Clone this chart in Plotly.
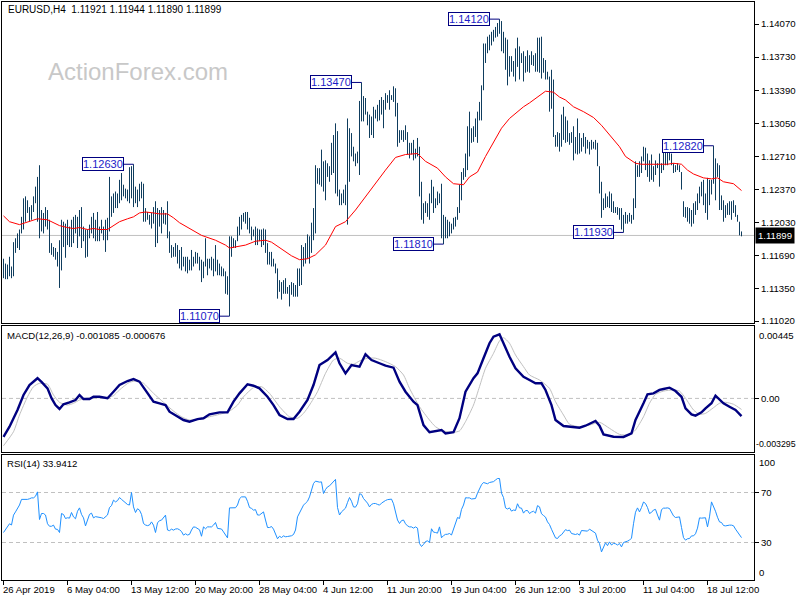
import plotly.graph_objects as go

# ---------------- data ----------------
header_text = "EURUSD,H4  1.11921 1.11944 1.11890 1.11899"
macd_text = "MACD(12,26,9) -0.001085 -0.000676"
rsi_text = "RSI(14) 33.9412"
watermark = "ActionForex.com"
bid_price = 1.11899

bar_high = [
    1.1166, 1.1161, 1.1160, 1.1168, 1.1158, 1.1183, 1.1187, 1.1192, 1.1196, 1.1209,
    1.1228, 1.1230, 1.1226, 1.1219, 1.1221, 1.1230, 1.1240, 1.1250, 1.1262, 1.1216,
    1.1213, 1.1219, 1.1216, 1.1206, 1.1182, 1.1178, 1.1177, 1.1173, 1.1185, 1.1206,
    1.1204, 1.1202, 1.1206, 1.1199, 1.1206, 1.1209, 1.1211, 1.1209, 1.1216, 1.1219,
    1.1199, 1.1196, 1.1196, 1.1201, 1.1209, 1.1213, 1.1206, 1.1214, 1.1199, 1.1206,
    1.1199, 1.1206, 1.1208, 1.1250, 1.1230, 1.1233, 1.1235, 1.1233, 1.1247, 1.1254,
    1.1242, 1.1238, 1.1237, 1.1260, 1.1261, 1.1263, 1.1240, 1.1237, 1.1243, 1.1245,
    1.1243, 1.1218, 1.1214, 1.1211, 1.1213, 1.1219, 1.1225, 1.1218, 1.1216, 1.1219,
    1.1216, 1.1213, 1.1225, 1.1194, 1.1180, 1.1178, 1.1182, 1.1180, 1.1175, 1.1178,
    1.1168, 1.1168, 1.1168, 1.1165, 1.1175, 1.1168, 1.1173, 1.1172, 1.1168, 1.1165,
    1.1163, 1.1187, 1.1166, 1.1166, 1.1168, 1.1166, 1.1180, 1.1165, 1.1161, 1.1158,
    1.1156, 1.1153, 1.1148, 1.1189, 1.1189, 1.1187, 1.1185, 1.1199, 1.1209, 1.1211,
    1.1213, 1.1214, 1.1214, 1.1208, 1.1199, 1.1196, 1.1199, 1.1197, 1.1196, 1.1196,
    1.1197, 1.1196, 1.1182, 1.1173, 1.1173, 1.1166, 1.1161, 1.1156, 1.1144, 1.1142,
    1.1144, 1.1146, 1.1137, 1.1139, 1.1142, 1.1141, 1.1139, 1.1156, 1.1156, 1.1180,
    1.1178, 1.1182, 1.1191, 1.1189, 1.1203, 1.1218, 1.1262, 1.1259, 1.1259, 1.1278,
    1.1266, 1.1267, 1.1264, 1.1261, 1.1285, 1.1293, 1.1305, 1.1297, 1.1237, 1.1233,
    1.1237, 1.1242, 1.1310, 1.1300, 1.1295, 1.1281, 1.1274, 1.1276, 1.1328, 1.1347,
    1.1333, 1.1331, 1.1317, 1.1314, 1.1312, 1.1322, 1.1319, 1.1324, 1.1329, 1.1332,
    1.1329, 1.1336, 1.1334, 1.1339, 1.1334, 1.1343, 1.1341, 1.1326, 1.1298, 1.1298,
    1.1298, 1.1303, 1.1296, 1.1285, 1.1285, 1.1288, 1.1279, 1.1290, 1.1281, 1.1245,
    1.1223, 1.1225, 1.1223, 1.1233, 1.1247, 1.1240, 1.1228, 1.1235, 1.1233, 1.1243,
    1.1211, 1.1209, 1.1206, 1.1204, 1.1202, 1.1208, 1.1209, 1.1219, 1.1242, 1.1255,
    1.1259, 1.1274, 1.1302, 1.1317, 1.1300, 1.1302, 1.1310, 1.1317, 1.1327, 1.1344,
    1.1387, 1.1387, 1.1394, 1.1396, 1.1399, 1.1401, 1.1404, 1.1408, 1.1412, 1.1410,
    1.1399, 1.1393, 1.1391, 1.1374, 1.1374, 1.1369, 1.1382, 1.1393, 1.1384, 1.1377,
    1.1379, 1.1374, 1.1380, 1.1375, 1.1379, 1.1375, 1.1377, 1.1393, 1.1393, 1.1394,
    1.1372, 1.1370, 1.1358, 1.1353, 1.1360, 1.1350, 1.1293, 1.1296, 1.1295, 1.1314,
    1.1322, 1.1312, 1.1308, 1.1295, 1.1296, 1.1302, 1.1291, 1.1310, 1.1295, 1.1290,
    1.1295, 1.1291, 1.1288, 1.1286, 1.1288, 1.1286, 1.1288, 1.1285, 1.1261, 1.1245,
    1.1228, 1.1233, 1.1230, 1.1235, 1.1233, 1.1225, 1.1219, 1.1219, 1.1218, 1.1218,
    1.1211, 1.1214, 1.1211, 1.1213, 1.1211, 1.1228, 1.1266, 1.1262, 1.1266, 1.1271,
    1.1281, 1.1280, 1.1274, 1.1267, 1.1273, 1.1261, 1.1267, 1.1264, 1.1274, 1.1264,
    1.1276, 1.1279, 1.1278, 1.1281, 1.1274, 1.1264, 1.1262, 1.1264, 1.1262, 1.1255,
    1.1225, 1.1219, 1.1219, 1.1218, 1.1216, 1.1223, 1.1225, 1.1233, 1.1240, 1.1245,
    1.1247, 1.1233, 1.1249, 1.1247, 1.1247, 1.1282, 1.1269, 1.1264, 1.1262, 1.1231,
    1.1226, 1.1221, 1.1223, 1.1225, 1.1225, 1.1226, 1.1221, 1.1211, 1.1204, 1.1194,
]

bar_low = [
    1.1146, 1.1145, 1.1145, 1.1148, 1.1146, 1.1148, 1.1172, 1.1177, 1.1175, 1.1192,
    1.1196, 1.1204, 1.1213, 1.1204, 1.1206, 1.1214, 1.1223, 1.1204, 1.1187, 1.1194,
    1.1192, 1.1199, 1.1196, 1.1172, 1.1170, 1.1168, 1.1165, 1.1158, 1.1136, 1.1154,
    1.1178, 1.1167, 1.1180, 1.1178, 1.1178, 1.1182, 1.1192, 1.1177, 1.1189, 1.1177,
    1.1184, 1.1167, 1.1168, 1.1187, 1.1192, 1.1187, 1.1184, 1.1184, 1.1184, 1.1192,
    1.1185, 1.1173, 1.1185, 1.1194, 1.1209, 1.1213, 1.1218, 1.1218, 1.1223, 1.1226,
    1.1230, 1.1228, 1.1225, 1.1223, 1.1228, 1.1219, 1.1223, 1.1219, 1.1225, 1.1228,
    1.1204, 1.1204, 1.1206, 1.1201, 1.1197, 1.1202, 1.1178, 1.1182, 1.1199, 1.1192,
    1.1202, 1.1201, 1.1187, 1.1172, 1.1167, 1.1168, 1.1168, 1.1161, 1.1156, 1.1154,
    1.1158, 1.1153, 1.1151, 1.1154, 1.1154, 1.1158, 1.1161, 1.1161, 1.1154, 1.1142,
    1.1146, 1.1158, 1.1149, 1.1156, 1.1154, 1.1148, 1.1153, 1.1149, 1.1149, 1.1148,
    1.1148, 1.1130, 1.1129, 1.1107, 1.1168, 1.1177, 1.1177, 1.1184, 1.1190, 1.1196,
    1.1204, 1.1202, 1.1196, 1.1192, 1.1185, 1.1189, 1.1180, 1.1180, 1.1184, 1.1178,
    1.1180, 1.1172, 1.1160, 1.1160, 1.1158, 1.1158, 1.1151, 1.1125, 1.1132, 1.1124,
    1.1130, 1.1130, 1.1130, 1.1117, 1.1129, 1.1127, 1.1127, 1.1127, 1.1138, 1.1139,
    1.1158, 1.1161, 1.1166, 1.1161, 1.1172, 1.1185, 1.1192, 1.1243, 1.1242, 1.1240,
    1.1235, 1.1226, 1.1250, 1.1245, 1.1252, 1.1254, 1.1233, 1.1230, 1.1221, 1.1221,
    1.1223, 1.1221, 1.1201, 1.1245, 1.1271, 1.1266, 1.1261, 1.1264, 1.1252, 1.1307,
    1.1307, 1.1314, 1.1303, 1.1290, 1.1293, 1.1290, 1.1310, 1.1307, 1.1308, 1.1314,
    1.1300, 1.1319, 1.1326, 1.1319, 1.1329, 1.1327, 1.1312, 1.1281, 1.1285, 1.1288,
    1.1286, 1.1288, 1.1273, 1.1269, 1.1273, 1.1267, 1.1269, 1.1271, 1.1230, 1.1206,
    1.1202, 1.1213, 1.1209, 1.1206, 1.1223, 1.1213, 1.1218, 1.1221, 1.1223, 1.1187,
    1.1181, 1.1187, 1.1187, 1.1189, 1.1192, 1.1196, 1.1199, 1.1206, 1.1213, 1.1226,
    1.1247, 1.1250, 1.1257, 1.1271, 1.1285, 1.1286, 1.1291, 1.1285, 1.1308, 1.1308,
    1.1339, 1.1367, 1.1377, 1.1380, 1.1385, 1.1389, 1.1393, 1.1394, 1.1397, 1.1379,
    1.1377, 1.1360, 1.1344, 1.1353, 1.1358, 1.1353, 1.1348, 1.1363, 1.1350, 1.1367,
    1.1348, 1.1357, 1.1358, 1.1357, 1.1365, 1.1364, 1.1358, 1.1358, 1.1357, 1.1351,
    1.1357, 1.1350, 1.1350, 1.1317, 1.1320, 1.1291, 1.1281, 1.1281, 1.1276, 1.1281,
    1.1288, 1.1285, 1.1286, 1.1283, 1.1285, 1.1267, 1.1274, 1.1273, 1.1274, 1.1276,
    1.1281, 1.1274, 1.1279, 1.1273, 1.1278, 1.1279, 1.1278, 1.1261, 1.1233, 1.1208,
    1.1216, 1.1218, 1.1219, 1.1218, 1.1214, 1.1213, 1.1213, 1.1211, 1.1206, 1.1196,
    1.1193, 1.1202, 1.1202, 1.1204, 1.1202, 1.1206, 1.1218, 1.1250, 1.1250, 1.1254,
    1.1266, 1.1257, 1.1250, 1.1245, 1.1247, 1.1245, 1.1252, 1.1259, 1.1240, 1.1254,
    1.1257, 1.1262, 1.1262, 1.1267, 1.1262, 1.1254, 1.1255, 1.1257, 1.1255, 1.1237,
    1.1209, 1.1208, 1.1204, 1.1202, 1.1199, 1.1202, 1.1211, 1.1216, 1.1223, 1.1230,
    1.1221, 1.1213, 1.1206, 1.1221, 1.1232, 1.1243, 1.1226, 1.1250, 1.1216, 1.1216,
    1.1204, 1.1208, 1.1211, 1.1211, 1.1206, 1.1213, 1.1209, 1.1204, 1.1190, 1.1189,
]

ma_bar = [0, 3, 8, 13, 17, 22, 25, 28, 32, 35, 38, 42, 45, 48, 52, 55, 58, 62, 65, 68,
          71, 75, 78, 82, 85, 88, 92, 99, 106, 111, 113, 116, 121, 126, 131, 134, 139, 144, 148, 152,
          156, 161, 166, 171, 176, 181, 187, 191, 196, 201, 207, 211, 217, 221, 225, 230, 233, 237, 241, 245,
          249, 253, 256, 260, 263, 268, 271, 275, 278, 281, 285, 290, 295, 299, 304, 308, 311, 316, 319, 326,
          332, 335, 339, 342, 345, 350, 354, 357, 360, 365, 369]
ma_val = [1.1210, 1.1204, 1.1201, 1.1204, 1.1207, 1.1206, 1.1203, 1.1200, 1.1198, 1.1197,
          1.1198, 1.1196, 1.1197, 1.1196, 1.1196, 1.1200, 1.1204, 1.1207, 1.1209, 1.1213,
          1.1214, 1.1213, 1.1212, 1.1212, 1.1208, 1.1203, 1.1198, 1.1190, 1.1185, 1.1180,
          1.1177, 1.1178, 1.1180, 1.1184, 1.1185, 1.1183, 1.1176, 1.1169, 1.1165, 1.1166,
          1.1170, 1.1180, 1.1199, 1.1204, 1.1216, 1.1230, 1.1247, 1.1257, 1.1270, 1.1273,
          1.1274, 1.1266, 1.1259, 1.1250, 1.1243, 1.1242, 1.1250, 1.1255, 1.1271, 1.1285,
          1.1300, 1.1310, 1.1315, 1.1322, 1.1326, 1.1334, 1.1338, 1.1337, 1.1332, 1.1329,
          1.1322, 1.1317, 1.1311, 1.1303, 1.1291, 1.1281, 1.1271, 1.1264, 1.1263, 1.1263,
          1.1263, 1.1264, 1.1263, 1.1257, 1.1253, 1.1249, 1.1248, 1.1249, 1.1245, 1.1243,
          1.1236]

macd_bar = [0, 3, 7, 10, 13, 17, 19, 22, 24, 26, 28, 30, 33, 36, 38, 40, 43, 45, 48, 52,
            55, 58, 62, 65, 68, 72, 75, 78, 81, 83, 87, 90, 93, 97, 100, 103, 108, 112, 115, 118,
            122, 125, 128, 132, 135, 138, 142, 145, 148, 152, 155, 158, 162, 166, 168, 171, 174, 178, 181, 184,
            188, 191, 195, 198, 201, 205, 207, 210, 213, 216, 219, 221, 225, 228, 231, 235, 237, 240, 243, 245,
            248, 250, 253, 256, 260, 263, 266, 269, 271, 274, 276, 280, 283, 288, 291, 296, 298, 300, 305, 310,
            314, 316, 320, 322, 325, 328, 330, 333, 336, 339, 341, 344, 346, 349, 351, 354, 356, 360, 363, 366,
            369]
macd_val = [-0.00236, -0.00174, -0.00071, 0.00021, 0.00082, 0.00124, 0.00101, 0.00062, 0.00001, -0.00041,
            -0.00065, -0.00036, -0.00024, -0.00010, 0.00021, -0.00004, -0.00004, 0.00010, 0.00010, 0.00001,
            0.00041, 0.00082, 0.00107, 0.00119, 0.00103, 0.00031, -0.00020, -0.00030, -0.00041, -0.00082,
            -0.00113, -0.00133, -0.00143, -0.00127, -0.00122, -0.00098, -0.00086, -0.00086, -0.00020, 0.00031,
            0.00087, 0.00078, 0.00062, 0.00010, -0.00041, -0.00102, -0.00127, -0.00127, -0.00082, -0.00010,
            0.00082, 0.00205, 0.00236, 0.00283, 0.00216, 0.00154, 0.00205, 0.00195, 0.00271, 0.00236,
            0.00216, 0.00201, 0.00189, 0.00103, 0.00041, -0.00020, -0.00041, -0.00164, -0.00208, -0.00200,
            -0.00194, -0.00215, -0.00208, -0.00122, 0.00041, 0.00124, 0.00154, 0.00247, 0.00339, 0.00379,
            0.00394, 0.00339, 0.00256, 0.00185, 0.00133, 0.00113, 0.00093, 0.00093, 0.00052, -0.00041,
            -0.00133, -0.00170, -0.00174, -0.00180, -0.00168, -0.00139, -0.00168, -0.00221, -0.00236, -0.00237,
            -0.00215, -0.00133, -0.00030, 0.00025, 0.00031, 0.00052, 0.00058, 0.00066, 0.00045, 0.00010,
            -0.00061, -0.00098, -0.00106, -0.00086, -0.00061, -0.00030, 0.00017, -0.00030, -0.00051, -0.00071,
            -0.00109]

sig_bar = [0, 5, 8, 12, 15, 18, 22, 25, 28, 32, 35, 38, 42, 47, 52, 55, 58, 63, 67, 70,
           75, 80, 85, 89, 93, 98, 103, 108, 113, 117, 120, 125, 129, 133, 138, 143, 147, 150, 153, 157,
           161, 165, 168, 172, 175, 178, 182, 186, 191, 196, 200, 203, 208, 213, 216, 220, 225, 228, 231, 235,
           238, 241, 245, 248, 250, 253, 256, 260, 263, 268, 273, 276, 280, 283, 288, 293, 298, 303, 308, 313,
           316, 320, 323, 326, 330, 335, 338, 341, 345, 348, 351, 355, 358, 361, 365, 369]
sig_val = [-0.00291, -0.00205, -0.00102, 0.00010, 0.00072, 0.00093, 0.00087, 0.00021, -0.00024, -0.00041,
           -0.00030, -0.00010, 0.00001, 0.00004, 0.00004, 0.00017, 0.00052, 0.00099, 0.00107, 0.00093,
           0.00031, -0.00024, -0.00078, -0.00113, -0.00133, -0.00129, -0.00113, -0.00098, -0.00078, -0.00041,
           0.00010, 0.00066, 0.00072, 0.00031, -0.00051, -0.00113, -0.00122, -0.00092, -0.00041, 0.00041,
           0.00154, 0.00236, 0.00247, 0.00216, 0.00210, 0.00230, 0.00247, 0.00247, 0.00226, 0.00195,
           0.00144, 0.00062, -0.00051, -0.00133, -0.00174, -0.00200, -0.00208, -0.00200, -0.00143, -0.00041,
           0.00072, 0.00185, 0.00277, 0.00353, 0.00373, 0.00339, 0.00267, 0.00195, 0.00144, 0.00113,
           0.00062, -0.00020, -0.00102, -0.00159, -0.00174, -0.00164, -0.00147, -0.00184, -0.00221, -0.00225,
           -0.00194, -0.00113, -0.00030, 0.00025, 0.00045, 0.00052, 0.00045, 0.00001, -0.00071, -0.00098,
           -0.00092, -0.00057, -0.00030, -0.00024, -0.00036, -0.00068]

rsi_val = [
    38.0, 40.5, 43.0, 45.0, 44.0, 51.9, 54.5, 57.0, 60.0, 64.5,
    64.5, 64.0, 64.5, 65.0, 65.7, 65.7, 67.0, 70.5, 48.4, 53.2,
    53.2, 52.0, 45.0, 43.0, 43.0, 43.9, 40.7, 40.5, 38.0, 53.2,
    52.4, 49.2, 49.8, 49.5, 54.0, 50.5, 49.0, 55.0, 57.7, 52.5,
    49.7, 43.3, 48.5, 52.5, 53.5, 49.7, 50.7, 50.5, 50.0, 49.8,
    49.2, 50.5, 52.0, 58.0, 59.5, 63.9, 62.5, 63.5, 66.0, 64.5,
    63.1, 62.0, 60.4, 60.0, 70.0, 58.5, 54.0, 57.0, 55.9, 52.5,
    45.2, 44.0, 43.5, 44.0, 46.5, 43.9, 38.0, 45.7, 47.5, 47.9,
    49.7, 51.9, 40.0, 39.5, 40.7, 39.9, 40.8, 41.0, 40.2, 38.8,
    35.9, 37.0, 36.0, 36.5, 40.0, 42.5, 42.2, 41.0, 40.2, 35.0,
    42.5, 41.0, 42.5, 42.5, 42.5, 43.9, 46.0, 41.3, 41.0, 40.8,
    38.5, 36.0, 33.7, 57.7, 57.7, 57.2, 57.8, 60.0, 65.0, 66.5,
    66.5, 66.5, 63.0, 58.0, 57.3, 55.9, 56.3, 52.0, 52.0, 53.2,
    54.5, 48.0, 42.0, 42.0, 42.8, 40.7, 36.8, 33.0, 35.0, 34.0,
    35.3, 34.6, 34.8, 35.0, 35.4, 36.4, 40.0, 50.5, 53.5, 56.7,
    59.9, 61.5, 63.0, 66.5, 71.0, 77.2, 79.1, 78.6, 78.3, 78.5,
    69.2, 72.4, 74.5, 75.3, 77.0, 78.5, 80.5, 58.0, 52.0, 54.5,
    55.9, 57.5, 62.0, 66.0, 63.0, 58.5, 58.3, 61.0, 69.0, 68.5,
    65.2, 63.5, 61.5, 58.5, 60.5, 61.2, 61.2, 60.5, 59.9, 61.5,
    62.8, 63.6, 64.3, 64.7, 64.7, 61.0, 55.5, 48.0, 45.2, 47.5,
    48.0, 45.0, 43.3, 42.5, 42.5, 41.5, 42.5, 41.5, 29.2, 26.8,
    28.5, 30.8, 31.3, 30.0, 41.0, 38.3, 38.0, 37.5, 42.5, 33.8,
    35.5, 36.5, 36.6, 37.2, 36.0, 40.5, 44.0, 50.0, 49.2, 56.5,
    60.0, 65.8, 65.7, 65.7, 64.8, 65.2, 65.2, 69.5, 73.2, 76.2,
    78.0, 77.5, 77.0, 78.0, 78.5, 78.7, 80.0, 81.2, 81.2, 69.5,
    66.0, 57.7, 56.8, 57.7, 55.1, 56.0, 55.6, 61.0, 57.7, 57.5,
    53.5, 55.5, 55.6, 53.2, 54.4, 55.0, 53.5, 59.5, 58.5, 53.0,
    51.6, 50.3, 46.5, 44.4, 40.6, 36.9, 33.7, 33.2, 35.3, 36.2,
    38.3, 40.3, 39.5, 39.9, 37.2, 36.9, 36.4, 37.0, 35.9, 39.6,
    39.3, 39.4, 39.1, 40.7, 39.6, 39.0, 37.5, 31.8, 29.2, 22.5,
    26.5, 29.8, 27.5, 30.5, 28.0, 29.3, 29.0, 28.0, 29.2, 26.5,
    30.0, 30.3, 31.1, 31.9, 33.5, 45.0, 54.2, 57.7, 54.5, 58.0,
    62.4, 61.2, 58.0, 53.2, 54.1, 56.0, 56.5, 52.0, 47.9, 56.3,
    57.5, 57.5, 57.7, 57.2, 54.5, 51.3, 50.0, 50.4, 50.5, 42.0,
    33.9, 31.9, 33.0, 33.2, 35.3, 35.3, 37.0, 41.5, 49.7, 49.5,
    49.8, 49.8, 42.5, 50.5, 62.5, 59.0, 55.0, 50.2, 46.5, 46.0,
    43.6, 43.3, 43.9, 43.9, 43.9, 43.4, 40.7, 38.4, 35.3, 33.9,
]

# price labels (swing highs/lows)
label_bar = [65, 113, 179, 220, 248, 310, 355]
label_price = [1.12630, 1.11070, 1.13470, 1.11810, 1.14120, 1.11930, 1.12820]

price_ticks = [1.14070, 1.13730, 1.13390, 1.13050, 1.12710, 1.12370, 1.12030, 1.11690, 1.11350, 1.11020]
date_tick_bar = [0, 32, 64, 96, 128, 160, 192, 224, 256, 288, 320, 352]
date_tick_text = ["26 Apr 2019", "6 May 04:00", "13 May 12:00", "20 May 20:00", "28 May 04:00",
                  "4 Jun 12:00", "11 Jun 20:00", "19 Jun 04:00", "26 Jun 12:00", "3 Jul 20:00",
                  "11 Jul 04:00", "18 Jul 12:00"]
macd_range = [-0.003295, 0.00445]
rsi_levels = [70, 30]

# ---------------- figure ----------------
FONT = "Liberation Sans, Arial, sans-serif"
FS = 9.6
BAR_COLOR = "#0f3d5e"

bx, by = [], []
for i, (h, l) in enumerate(zip(bar_high, bar_low)):
    bx += [i, i, None]
    by += [l, h, None]

fig = go.Figure()
fig.add_trace(go.Scatter(x=bx, y=by, mode="lines", line=dict(color=BAR_COLOR, width=1),
                         xaxis="x", yaxis="y", hoverinfo="skip"))
fig.add_trace(go.Scatter(x=ma_bar, y=ma_val, mode="lines", line=dict(color="#ff0000", width=1),
                         xaxis="x", yaxis="y", hoverinfo="skip"))
fig.add_trace(go.Scatter(x=sig_bar, y=sig_val, mode="lines",
                         line=dict(color="#c0c0c0", width=1, shape="spline", smoothing=0.6),
                         xaxis="x2", yaxis="y2", hoverinfo="skip"))
fig.add_trace(go.Scatter(x=macd_bar, y=macd_val, mode="lines", line=dict(color="#000080", width=2.4),
                         xaxis="x2", yaxis="y2", hoverinfo="skip"))
fig.add_trace(go.Scatter(x=list(range(len(rsi_val))), y=rsi_val, mode="lines",
                         line=dict(color="#1e90ff", width=1), xaxis="x3", yaxis="y3", hoverinfo="skip"))

xr = [-0.75, 375.25]
axis_common = dict(showline=True, mirror=True, linecolor="black", linewidth=1,
                   showgrid=False, zeroline=False)

shapes = []
shapes.append(dict(type="line", xref="x domain", yref="y", x0=0, x1=1, y0=bid_price, y1=bid_price,
                   line=dict(color="#c0c0c0", width=1), layer="below"))
shapes.append(dict(type="line", xref="x2 domain", yref="y2", x0=0, x1=1, y0=0, y1=0,
                   line=dict(color="#c0c0c0", width=1, dash="4px,3px"), layer="below"))
for lv in rsi_levels:
    shapes.append(dict(type="line", xref="x3 domain", yref="y3", x0=0, x1=1, y0=lv, y1=lv,
                       line=dict(color="#c0c0c0", width=1, dash="4px,3px"), layer="below"))

annotations = []
for b, p in zip(label_bar, label_price):
    shapes.append(dict(type="line", xref="x", yref="y", x0=b - 5, x1=b, y0=p, y1=p,
                       line=dict(color="#000080", width=1)))
    annotations.append(dict(x=b - 5, y=p, xref="x", yref="y", text=f"{p:.5f}", showarrow=False,
                            xanchor="right", yanchor="middle", bgcolor="white", bordercolor="#000080",
                            borderwidth=1, borderpad=0, font=dict(family=FONT, size=11, color="#1c1cc8")))

annotations.append(dict(x=1, y=bid_price, xref="paper", yref="y", text=f"{bid_price:.5f}", showarrow=False,
                        xanchor="left", yanchor="middle", xshift=1, bgcolor="black", borderpad=2,
                        font=dict(family=FONT, size=FS, color="white")))

def px_x(px):
    return (px - 2) / 752.0

def px_y(py):
    return (580 - py) / 578.0

annotations.append(dict(x=px_x(6), y=px_y(10), xref="paper", yref="paper", text=header_text,
                        showarrow=False, xanchor="left", yanchor="middle",
                        font=dict(family=FONT, size=10, color="black")))
annotations.append(dict(x=px_x(46), y=px_y(71), xref="paper", yref="paper", text=watermark,
                        showarrow=False, xanchor="left", yanchor="middle",
                        font=dict(family=FONT, size=24, color="#c8c8c8")))
annotations.append(dict(x=px_x(5), y=px_y(335), xref="paper", yref="paper", text=macd_text,
                        showarrow=False, xanchor="left", yanchor="middle",
                        font=dict(family=FONT, size=FS, color="black")))
annotations.append(dict(x=px_x(5), y=px_y(463), xref="paper", yref="paper", text=rsi_text,
                        showarrow=False, xanchor="left", yanchor="middle",
                        font=dict(family=FONT, size=FS, color="black")))
for txt, py, fs, xs in [(f"{macd_range[1]:.5f}", 335, FS, 3), (f"{macd_range[0]:.6f}", 444, 8.8, 0),
                        ("100", 462, FS, 3), ("0", 572, FS, 3)]:
    annotations.append(dict(x=1, y=px_y(py), xref="paper", yref="paper", text=txt, showarrow=False,
                            xanchor="left", yanchor="middle", xshift=xs,
                            font=dict(family=FONT, size=fs, color="black")))
for b, t in zip(date_tick_bar, date_tick_text):
    annotations.append(dict(x=b, y=0, xref="x3", yref="paper", text=t, showarrow=False,
                            xanchor="left", yanchor="top", xshift=-3, yshift=-2,
                            font=dict(family=FONT, size=FS, color="black")))

fig.update_layout(
    width=800, height=600,
    margin=dict(l=2, r=46, t=2, b=20),
    paper_bgcolor="white", plot_bgcolor="white",
    showlegend=False,
    font=dict(family=FONT, size=FS, color="black"),
    xaxis=dict(domain=[0, 1], range=xr, anchor="y", showticklabels=False, ticks="", **axis_common),
    xaxis2=dict(domain=[0, 1], range=xr, anchor="y2", matches="x", showticklabels=False, ticks="", **axis_common),
    xaxis3=dict(domain=[0, 1], range=xr, anchor="y3", matches="x", showticklabels=False, ticks="outside",
                ticklen=4, tickcolor="black", tickvals=date_tick_bar, **axis_common),
    yaxis=dict(domain=[px_y(323), 1], range=[1.11000, 1.14296], side="right", anchor="x",
               tickvals=price_ticks, ticktext=[f"{v:.5f}" for v in price_ticks],
               ticks="outside", ticklen=4, tickcolor="black", **axis_common),
    yaxis2=dict(domain=[px_y(452), px_y(326)], range=macd_range, side="right", anchor="x2",
                tickvals=[0], ticktext=["0.00"], ticks="outside", ticklen=4, tickcolor="black", **axis_common),
    yaxis3=dict(domain=[0, px_y(455)], range=[0, 100], side="right", anchor="x3",
                tickvals=rsi_levels, ticktext=[str(v) for v in rsi_levels],
                ticks="outside", ticklen=4, tickcolor="black", **axis_common),
    shapes=shapes,
    annotations=annotations,
)

fig.write_html("out.html", config={"displayModeBar": False},
               post_script="document.body.style.margin='0';document.body.style.padding='0';")
